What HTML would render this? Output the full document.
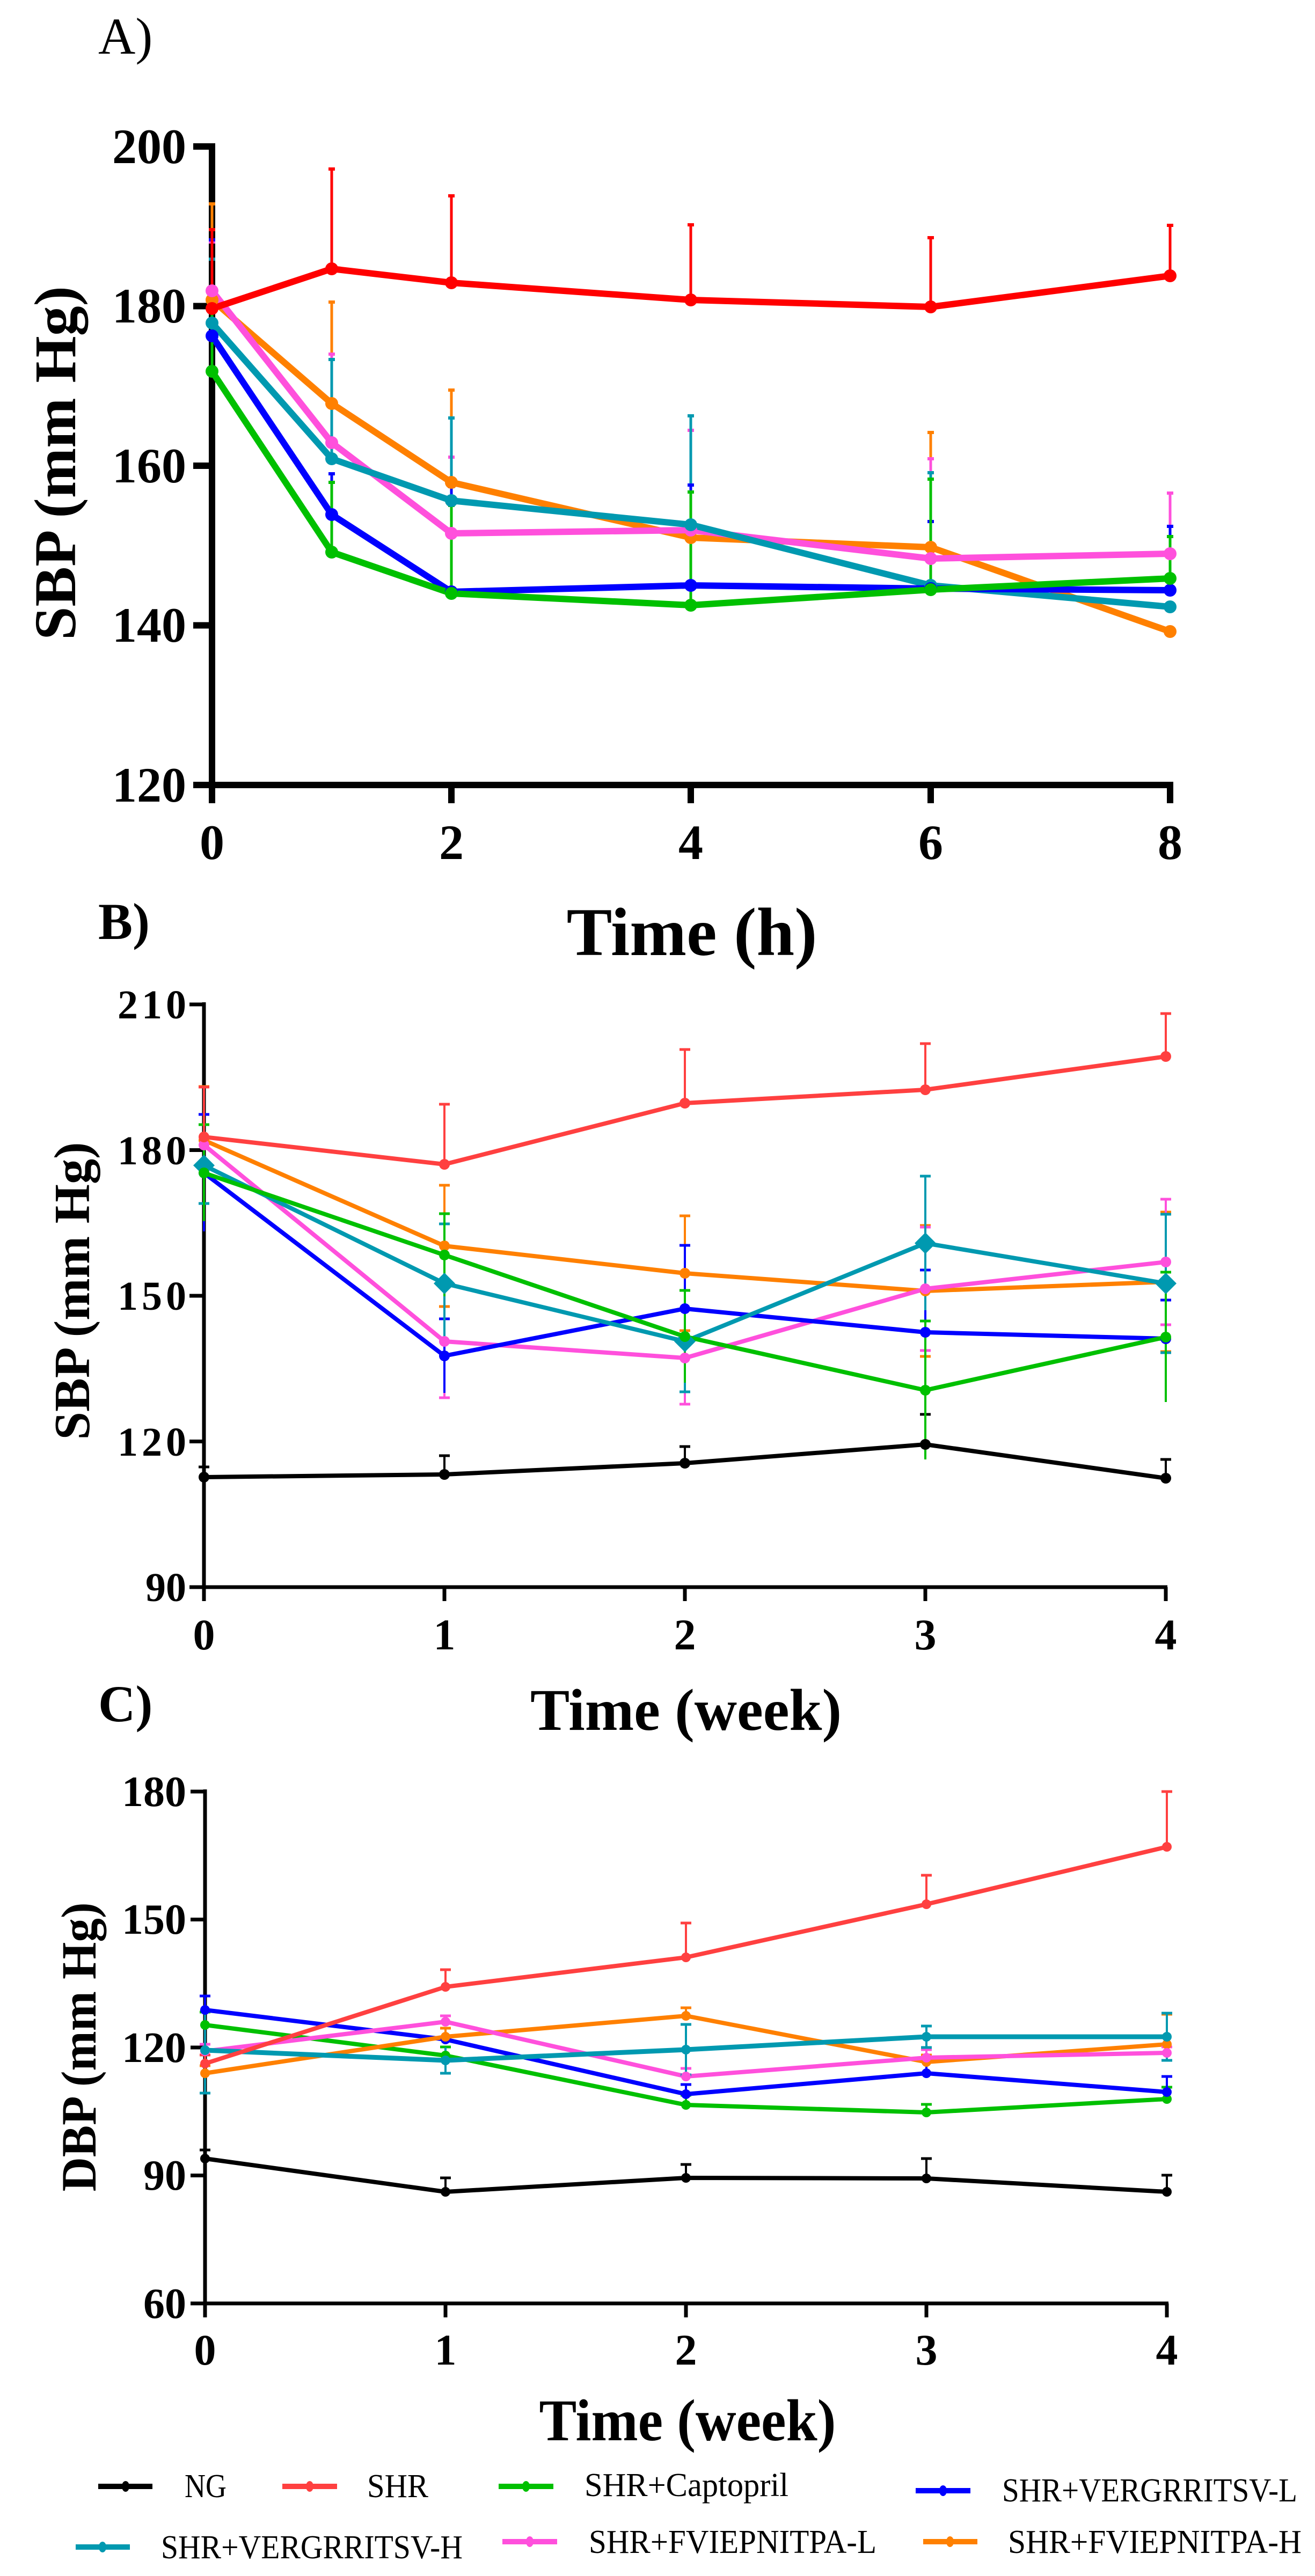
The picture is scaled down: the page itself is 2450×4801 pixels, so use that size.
<!DOCTYPE html>
<html><head><meta charset="utf-8"><style>
html,body{margin:0;padding:0;background:#fff;}
svg{display:block;}
text{font-family:"Liberation Serif",serif;fill:#000;}
.b{font-weight:bold;}
</style></head><body>
<svg width="2450" height="4801" viewBox="0 0 2450 4801" xmlns="http://www.w3.org/2000/svg">
<rect width="2450" height="4801" fill="#fff"/>

<!-- ================= PANEL A ================= -->
<text x="183" y="100" font-size="96">A)</text>
<g stroke="#000" stroke-width="12" fill="none">
<line x1="395" y1="267" x2="395" y2="1469"/>
<line x1="389" y1="1463" x2="2186" y2="1463"/>
<line x1="360" y1="273" x2="395" y2="273"/>
<line x1="360" y1="570.5" x2="395" y2="570.5"/>
<line x1="360" y1="868" x2="395" y2="868"/>
<line x1="360" y1="1165.5" x2="395" y2="1165.5"/>
<line x1="360" y1="1463" x2="395" y2="1463"/>
<line x1="395" y1="1463" x2="395" y2="1497"/>
<line x1="841" y1="1463" x2="841" y2="1497"/>
<line x1="1287" y1="1463" x2="1287" y2="1497"/>
<line x1="1734" y1="1463" x2="1734" y2="1497"/>
<line x1="2180" y1="1463" x2="2180" y2="1497"/>
</g>
<g class="b" font-size="92" text-anchor="end">
<text x="347" y="304">200</text>
<text x="347" y="601">180</text>
<text x="347" y="899">160</text>
<text x="347" y="1196">140</text>
<text x="347" y="1494">120</text>
</g>
<g class="b" font-size="92" text-anchor="middle">
<text x="395" y="1601">0</text>
<text x="841" y="1601">2</text>
<text x="1287" y="1601">4</text>
<text x="1734" y="1601">6</text>
<text x="2180" y="1601">8</text>
</g>
<text class="b" font-size="127" text-anchor="middle" x="1289" y="1780">Time (h)</text>
<text class="b" font-size="110" text-anchor="middle" transform="translate(140,863) rotate(-90)" textLength="660" lengthAdjust="spacingAndGlyphs">SBP (mm Hg)</text>

<!-- A series -->
<g fill="none" stroke-linejoin="round">
<!-- orange -->
<g stroke="#ff8000">
<path stroke-width="5" d="M395 559V380M618 752V563M841 899V727M1734 1020V806"/>
<path stroke-width="6" d="M389 380h12M612 563h12M835 727h12M1728 806h12"/>
<polyline stroke-width="12" points="395,559 618,752 841,899 1287,1002 1734,1020 2180,1177"/>
</g>
<!-- magenta -->
<g stroke="#ff50dc">
<path stroke-width="5" d="M395 542V451M618 825V660M841 994V852M1287 988V802M1734 1041V855M2180 1032V919"/>
<path stroke-width="6" d="M389 451h12M612 660h12M835 852h12M1281 802h12M1728 855h12M2174 919h12"/>
<polyline stroke-width="12" points="395,542 618,825 841,994 1287,988 1734,1041 2180,1032"/>
</g>
<!-- teal -->
<g stroke="#0099b0">
<path stroke-width="5" d="M395 602V483M618 855V670M841 933V779M1287 978V775M1734 1091V881"/>
<path stroke-width="6" d="M389 483h12M612 670h12M835 779h12M1281 775h12M1728 881h12"/>
<polyline stroke-width="12" points="395,602 618,855 841,933 1287,978 1734,1091 2180,1131"/>
</g>
<!-- blue -->
<g stroke="#0000ff">
<path stroke-width="5" d="M395 626V447M618 959V883M841 1103V907M1287 1091V904M1734 1097V972M2180 1100V981"/>
<path stroke-width="6" d="M389 447h12M612 883h12M835 907h12M1281 904h12M1728 972h12M2174 981h12"/>
<polyline stroke-width="12" points="395,626 618,959 841,1103 1287,1091 1734,1097 2180,1100"/>
</g>
<!-- green -->
<g stroke="#00c000">
<path stroke-width="5" d="M395 692V550M618 1029V899M841 1106V942M1287 1128V917M1734 1099V893M2180 1078V1000"/>
<path stroke-width="6" d="M389 550h12M612 899h12M835 942h12M1281 917h12M1728 893h12M2174 1000h12"/>
<polyline stroke-width="12" points="395,692 618,1029 841,1106 1287,1128 1734,1099 2180,1078"/>
</g>
<!-- red -->
<g stroke="#ff0000">
<path stroke-width="5" d="M395 575V428M618 501V315M841 527V365M1287 559V419M1734 572V443M2180 514V420"/>
<path stroke-width="6" d="M389 428h12M612 315h12M835 365h12M1281 419h12M1728 443h12M2174 420h12"/>
<polyline stroke-width="12" points="395,575 618,501 841,527 1287,559 1734,572 2180,514"/>
</g>
</g>
<g fill="#ff8000"><circle cx="395" cy="559" r="12"/><circle cx="618" cy="752" r="12"/><circle cx="841" cy="899" r="12"/><circle cx="1287" cy="1002" r="12"/><circle cx="1734" cy="1020" r="12"/><circle cx="2180" cy="1177" r="12"/></g>
<g fill="#ff50dc"><circle cx="395" cy="542" r="12"/><circle cx="618" cy="825" r="12"/><circle cx="841" cy="994" r="12"/><circle cx="1287" cy="988" r="12"/><circle cx="1734" cy="1041" r="12"/><circle cx="2180" cy="1032" r="12"/></g>
<g fill="#0099b0"><circle cx="395" cy="602" r="12"/><circle cx="618" cy="855" r="12"/><circle cx="841" cy="933" r="12"/><circle cx="1287" cy="978" r="12"/><circle cx="1734" cy="1091" r="12"/><circle cx="2180" cy="1131" r="12"/></g>
<g fill="#0000ff"><circle cx="395" cy="626" r="12"/><circle cx="618" cy="959" r="12"/><circle cx="841" cy="1103" r="12"/><circle cx="1287" cy="1091" r="12"/><circle cx="1734" cy="1097" r="12"/><circle cx="2180" cy="1100" r="12"/></g>
<g fill="#00c000"><circle cx="395" cy="692" r="12"/><circle cx="618" cy="1029" r="12"/><circle cx="841" cy="1106" r="12"/><circle cx="1287" cy="1128" r="12"/><circle cx="1734" cy="1099" r="12"/><circle cx="2180" cy="1078" r="12"/></g>
<g fill="#ff0000"><circle cx="395" cy="575" r="12"/><circle cx="618" cy="501" r="12"/><circle cx="841" cy="527" r="12"/><circle cx="1287" cy="559" r="12"/><circle cx="1734" cy="572" r="12"/><circle cx="2180" cy="514" r="12"/></g>

<!-- ================= PANEL B ================= -->
<text class="b" x="183" y="1750" font-size="96">B)</text>
<g stroke="#000" stroke-width="7" fill="none">
<line x1="380" y1="1868" x2="380" y2="2961"/>
<line x1="376" y1="2958" x2="2175" y2="2958"/>
<line x1="353" y1="1872" x2="380" y2="1872"/>
<line x1="353" y1="2143.5" x2="380" y2="2143.5"/>
<line x1="353" y1="2415" x2="380" y2="2415"/>
<line x1="353" y1="2686.5" x2="380" y2="2686.5"/>
<line x1="353" y1="2958" x2="380" y2="2958"/>
<line x1="380" y1="2958" x2="380" y2="2984"/>
<line x1="828" y1="2958" x2="828" y2="2984"/>
<line x1="1276" y1="2958" x2="1276" y2="2984"/>
<line x1="1724" y1="2958" x2="1724" y2="2984"/>
<line x1="2172" y1="2958" x2="2172" y2="2984"/>
</g>
<g class="b" font-size="76" text-anchor="end">
<text x="347" y="1898" textLength="128" lengthAdjust="spacing">210</text>
<text x="347" y="2170" textLength="128" lengthAdjust="spacing">180</text>
<text x="347" y="2441" textLength="128" lengthAdjust="spacing">150</text>
<text x="347" y="2713" textLength="128" lengthAdjust="spacing">120</text>
<text x="347" y="2984">90</text>
</g>
<g class="b" font-size="82" text-anchor="middle">
<text x="380" y="3074">0</text>
<text x="828" y="3074">1</text>
<text x="1276" y="3074">2</text>
<text x="1724" y="3074">3</text>
<text x="2172" y="3074">4</text>
</g>
<text class="b" font-size="110" text-anchor="middle" x="1278" y="3224" textLength="580" lengthAdjust="spacingAndGlyphs">Time (week)</text>
<text class="b" font-size="94" text-anchor="middle" transform="translate(166,2406) rotate(-90)" textLength="555" lengthAdjust="spacingAndGlyphs">SBP (mm Hg)</text>

<g fill="none" stroke-linejoin="round">
<!-- black -->
<g stroke="#000">
<path stroke-width="4" d="M380 2753V2734M828 2748V2713M1276 2727V2696M1724 2692V2636M2172 2755V2720"/>
<path stroke-width="5" d="M370 2734h20M818 2713h20M1266 2696h20M1714 2636h20M2162 2720h20"/>
<polyline stroke-width="8" points="380,2753 828,2748 1276,2727 1724,2692 2172,2755"/>
</g>
<!-- orange -->
<g stroke="#ff8000">
<path stroke-width="4" d="M380 2025V2225M828 2209V2435M1276 2266V2480M1724 2284V2528M2172 2259V2519"/>
<path stroke-width="5" d="M370 2025h20M818 2209h20M818 2435h20M1266 2266h20M1266 2480h20M1714 2284h20M1714 2528h20M2162 2259h20M2162 2519h20"/>
<polyline stroke-width="8" points="380,2125 828,2322 1276,2373 1724,2406 2172,2389"/>
</g>
<!-- magenta -->
<g stroke="#ff50dc">
<path stroke-width="4" d="M380 2080V2188M828 2395V2605M1276 2445V2617M1724 2287V2517M2172 2235V2469"/>
<path stroke-width="5" d="M818 2605h20M1266 2617h20M1714 2287h20M1714 2517h20M2162 2235h20M2162 2469h20"/>
<polyline stroke-width="8" points="380,2134 828,2500 1276,2531 1724,2402 2172,2352"/>
</g>
<!-- blue -->
<g stroke="#0000ff">
<path stroke-width="4" d="M380 2077V2295M828 2458V2596M1276 2321V2557M1724 2367V2599M2172 2423V2567"/>
<path stroke-width="5" d="M370 2077h20M818 2458h20M1266 2321h20M1714 2367h20M2162 2423h20"/>
<polyline stroke-width="8" points="380,2186 828,2527 1276,2439 1724,2483 2172,2495"/>
</g>
<!-- teal -->
<g stroke="#0099b0">
<path stroke-width="4" d="M380 2101V2243M828 2281V2503M1276 2406V2594M1724 2192V2442M2172 2263V2521"/>
<path stroke-width="5" d="M370 2243h20M818 2281h20M1266 2594h20M1714 2192h20M2162 2263h20M2162 2521h20"/>
<polyline stroke-width="8" points="380,2172 828,2392 1276,2500 1724,2317 2172,2392"/>
</g>
<!-- green -->
<g stroke="#00c000">
<path stroke-width="4" d="M380 2096V2276M828 2262V2416M1276 2405V2577M1724 2462V2720M2172 2371V2613"/>
<path stroke-width="5" d="M370 2096h20M818 2262h20M1266 2405h20M1714 2462h20M2162 2371h20"/>
<polyline stroke-width="8" points="380,2186 828,2339 1276,2491 1724,2591 2172,2492"/>
</g>
<!-- red -->
<g stroke="#ff4040">
<path stroke-width="4" d="M380 2119V2026M828 2170V2058M1276 2056V1956M1724 2031V1945M2172 1969V1889"/>
<path stroke-width="5" d="M370 2026h20M818 2058h20M1266 1956h20M1714 1945h20M2162 1889h20"/>
<polyline stroke-width="8" points="380,2119 828,2170 1276,2056 1724,2031 2172,1969"/>
</g>
</g>
<g fill="#000"><circle cx="380" cy="2753" r="10"/><circle cx="828" cy="2748" r="10"/><circle cx="1276" cy="2727" r="10"/><circle cx="1724" cy="2692" r="10"/><circle cx="2172" cy="2755" r="10"/></g>
<g fill="#ff8000"><circle cx="380" cy="2125" r="10"/><circle cx="828" cy="2322" r="10"/><circle cx="1276" cy="2373" r="10"/><circle cx="1724" cy="2406" r="10"/><circle cx="2172" cy="2389" r="10"/></g>
<g fill="#ff50dc"><circle cx="380" cy="2134" r="10"/><circle cx="828" cy="2500" r="10"/><circle cx="1276" cy="2531" r="10"/><circle cx="1724" cy="2402" r="10"/><circle cx="2172" cy="2352" r="10"/></g>
<g fill="#0000ff"><circle cx="380" cy="2186" r="10"/><circle cx="828" cy="2527" r="10"/><circle cx="1276" cy="2439" r="10"/><circle cx="1724" cy="2483" r="10"/><circle cx="2172" cy="2495" r="10"/></g>
<g fill="#0099b0"><path d="M380 2152l20 20-20 20-20-20zM828 2372l20 20-20 20-20-20zM1276 2480l20 20-20 20-20-20zM1724 2297l20 20-20 20-20-20zM2172 2372l20 20-20 20-20-20z"/></g>
<g fill="#00c000"><circle cx="380" cy="2186" r="10"/><circle cx="828" cy="2339" r="10"/><circle cx="1276" cy="2491" r="10"/><circle cx="1724" cy="2591" r="10"/><circle cx="2172" cy="2492" r="10"/></g>
<g fill="#ff4040"><circle cx="380" cy="2119" r="10"/><circle cx="828" cy="2170" r="10"/><circle cx="1276" cy="2056" r="10"/><circle cx="1724" cy="2031" r="10"/><circle cx="2172" cy="1969" r="10"/></g>

<!-- ================= PANEL C ================= -->
<text class="b" x="183" y="3208" font-size="96">C)</text>
<g stroke="#000" stroke-width="7" fill="none">
<line x1="382" y1="3335" x2="382" y2="4296"/>
<line x1="378" y1="4293" x2="2177" y2="4293"/>
<line x1="355" y1="3339" x2="382" y2="3339"/>
<line x1="355" y1="3577.5" x2="382" y2="3577.5"/>
<line x1="355" y1="3816" x2="382" y2="3816"/>
<line x1="355" y1="4054.5" x2="382" y2="4054.5"/>
<line x1="355" y1="4293" x2="382" y2="4293"/>
<line x1="382" y1="4293" x2="382" y2="4319"/>
<line x1="830" y1="4293" x2="830" y2="4319"/>
<line x1="1278" y1="4293" x2="1278" y2="4319"/>
<line x1="1726" y1="4293" x2="1726" y2="4319"/>
<line x1="2174" y1="4293" x2="2174" y2="4319"/>
</g>
<g class="b" font-size="80" text-anchor="end">
<text x="347" y="3366">180</text>
<text x="347" y="3604">150</text>
<text x="347" y="3843">120</text>
<text x="347" y="4081">90</text>
<text x="347" y="4320">60</text>
</g>
<g class="b" font-size="82" text-anchor="middle">
<text x="382" y="4407">0</text>
<text x="830" y="4407">1</text>
<text x="1278" y="4407">2</text>
<text x="1726" y="4407">3</text>
<text x="2174" y="4407">4</text>
</g>
<text class="b" font-size="110" text-anchor="middle" x="1281" y="4548" textLength="553" lengthAdjust="spacingAndGlyphs">Time (week)</text>
<text class="b" font-size="92" text-anchor="middle" transform="translate(178,3815) rotate(-90)" textLength="539" lengthAdjust="spacingAndGlyphs">DBP (mm Hg)</text>

<g fill="none" stroke-linejoin="round">
<g stroke="#000">
<path stroke-width="4" d="M382 4023V4007M830 4085V4059M1278 4059V4034M1726 4060V4023M2174 4085V4054"/>
<path stroke-width="5" d="M372 4007h20M820 4059h20M1268 4034h20M1716 4023h20M2164 4054h20"/>
<polyline stroke-width="8" points="382,4023 830,4085 1278,4059 1726,4060 2174,4085"/>
</g>
<g stroke="#00c000">
<path stroke-width="4" d="M382 3774V3750M830 3831V3815M1278 3923V3905M1726 3937V3922M2174 3912V3890"/>
<path stroke-width="5" d="M372 3750h20M820 3815h20M1268 3905h20M1716 3922h20M2164 3890h20"/>
<polyline stroke-width="8" points="382,3774 830,3831 1278,3923 1726,3937 2174,3912"/>
</g>
<g stroke="#0000ff">
<path stroke-width="4" d="M382 3746V3720M830 3801V3780M1278 3903V3885M1726 3864V3838M2174 3899V3870"/>
<path stroke-width="5" d="M372 3720h20M820 3780h20M1268 3885h20M1716 3838h20M2164 3870h20"/>
<polyline stroke-width="8" points="382,3746 830,3801 1278,3903 1726,3864 2174,3899"/>
</g>
<g stroke="#ff8000">
<path stroke-width="4" d="M382 3864V3850M830 3796V3780M1278 3757V3742M1726 3843V3830M2174 3810V3754"/>
<path stroke-width="5" d="M372 3850h20M820 3780h20M1268 3742h20M1716 3830h20M2164 3754h20"/>
<polyline stroke-width="8" points="382,3864 830,3796 1278,3757 1726,3843 2174,3810"/>
</g>
<g stroke="#ff50dc">
<path stroke-width="4" d="M382 3823V3810M830 3768V3757M1278 3870V3855M1726 3835V3820M2174 3826V3815"/>
<path stroke-width="5" d="M372 3810h20M820 3757h20M1268 3855h20M1716 3820h20M2164 3815h20"/>
<polyline stroke-width="8" points="382,3823 830,3768 1278,3870 1726,3835 2174,3826"/>
</g>
<g stroke="#0099b0">
<path stroke-width="4" d="M382 3741V3901M830 3816V3864M1278 3773V3867M1726 3776V3816M2174 3752V3840"/>
<path stroke-width="5" d="M372 3901h20M820 3864h20M1268 3773h20M1268 3867h20M1716 3776h20M1716 3816h20M2164 3752h20M2164 3840h20"/>
<polyline stroke-width="9" points="382,3821 830,3840 1278,3820 1726,3796 2174,3796"/>
</g>
<g stroke="#ff4040">
<path stroke-width="4" d="M382 3846V3830M830 3703V3671M1278 3648V3584M1726 3549V3495M2174 3442V3339"/>
<path stroke-width="5" d="M372 3830h20M820 3671h20M1268 3584h20M1716 3495h20M2164 3339h20"/>
<polyline stroke-width="8" points="382,3846 830,3703 1278,3648 1726,3549 2174,3442"/>
</g>
</g>
<g fill="#000"><circle cx="382" cy="4023" r="9"/><circle cx="830" cy="4085" r="9"/><circle cx="1278" cy="4059" r="9"/><circle cx="1726" cy="4060" r="9"/><circle cx="2174" cy="4085" r="9"/></g>
<g fill="#00c000"><circle cx="382" cy="3774" r="9"/><circle cx="830" cy="3831" r="9"/><circle cx="1278" cy="3923" r="9"/><circle cx="1726" cy="3937" r="9"/><circle cx="2174" cy="3912" r="9"/></g>
<g fill="#0000ff"><circle cx="382" cy="3746" r="9"/><circle cx="830" cy="3801" r="9"/><circle cx="1278" cy="3903" r="9"/><circle cx="1726" cy="3864" r="9"/><circle cx="2174" cy="3899" r="9"/></g>
<g fill="#ff8000"><circle cx="382" cy="3864" r="9"/><circle cx="830" cy="3796" r="9"/><circle cx="1278" cy="3757" r="9"/><circle cx="1726" cy="3843" r="9"/><circle cx="2174" cy="3810" r="9"/></g>
<g fill="#ff50dc"><circle cx="382" cy="3823" r="9"/><circle cx="830" cy="3768" r="9"/><circle cx="1278" cy="3870" r="9"/><circle cx="1726" cy="3835" r="9"/><circle cx="2174" cy="3826" r="9"/></g>
<g fill="#0099b0"><circle cx="382" cy="3821" r="9"/><circle cx="830" cy="3840" r="9"/><circle cx="1278" cy="3820" r="9"/><circle cx="1726" cy="3796" r="9"/><circle cx="2174" cy="3796" r="9"/></g>
<g fill="#ff4040"><circle cx="382" cy="3846" r="9"/><circle cx="830" cy="3703" r="9"/><circle cx="1278" cy="3648" r="9"/><circle cx="1726" cy="3549" r="9"/><circle cx="2174" cy="3442" r="9"/></g>

<!-- ================= LEGEND ================= -->
<g stroke-width="10" fill="none">
<line x1="183" y1="4634" x2="284" y2="4634" stroke="#000"/>
<line x1="526" y1="4634" x2="628" y2="4634" stroke="#ff4040"/>
<line x1="929" y1="4634" x2="1031" y2="4634" stroke="#00c000"/>
<line x1="1706" y1="4642" x2="1808" y2="4642" stroke="#0000ff"/>
<line x1="141" y1="4747" x2="242" y2="4747" stroke="#0099b0"/>
<line x1="936" y1="4737" x2="1038" y2="4737" stroke="#ff50dc"/>
<line x1="1720" y1="4737" x2="1821" y2="4737" stroke="#ff8000"/>
</g>
<g>
<ellipse cx="234" cy="4634" rx="7" ry="10" fill="#000"/>
<ellipse cx="577" cy="4634" rx="7" ry="10" fill="#ff4040"/>
<ellipse cx="980" cy="4634" rx="7" ry="10" fill="#00c000"/>
<ellipse cx="1757" cy="4642" rx="7" ry="10" fill="#0000ff"/>
<ellipse cx="191" cy="4747" rx="7" ry="10" fill="#0099b0"/>
<ellipse cx="987" cy="4737" rx="7" ry="10" fill="#ff50dc"/>
<ellipse cx="1770" cy="4737" rx="7" ry="10" fill="#ff8000"/>
</g>
<g font-size="62">
<text x="344" y="4654" textLength="78" lengthAdjust="spacingAndGlyphs">NG</text>
<text x="684" y="4654" textLength="114" lengthAdjust="spacingAndGlyphs">SHR</text>
<text x="1089" y="4652" textLength="380" lengthAdjust="spacingAndGlyphs">SHR+Captopril</text>
<text x="1867" y="4662" textLength="550" lengthAdjust="spacingAndGlyphs">SHR+VERGRRITSV-L</text>
<text x="300" y="4768" textLength="562" lengthAdjust="spacingAndGlyphs">SHR+VERGRRITSV-H</text>
<text x="1097" y="4758" textLength="536" lengthAdjust="spacingAndGlyphs">SHR+FVIEPNITPA-L</text>
<text x="1878" y="4758" textLength="547" lengthAdjust="spacingAndGlyphs">SHR+FVIEPNITPA-H</text>
</g>
</svg>
</body></html>
